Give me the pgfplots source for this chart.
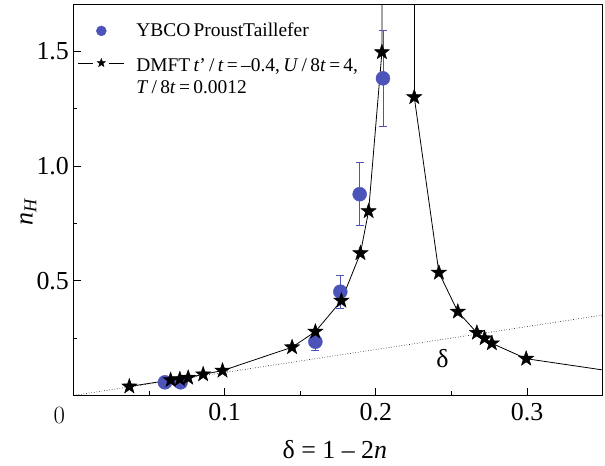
\documentclass[border=0pt]{standalone}
\usepackage{fontspec}
\setmainfont{Liberation Serif}
\usepackage{pgfplots}
\usepackage{pgfplotstable}
\pgfplotsset{compat=1.18}

\definecolor{ybco}{RGB}{77,84,185}

% filled five-pointed star
\pgfdeclareplotmark{fstar}{%
  \pgfpathmoveto{\pgfpointpolar{90}{\pgfplotmarksize}}%
  \pgfpathlineto{\pgfpointpolar{126}{0.4\pgfplotmarksize}}%
  \pgfpathlineto{\pgfpointpolar{162}{\pgfplotmarksize}}%
  \pgfpathlineto{\pgfpointpolar{198}{0.4\pgfplotmarksize}}%
  \pgfpathlineto{\pgfpointpolar{234}{\pgfplotmarksize}}%
  \pgfpathlineto{\pgfpointpolar{270}{0.4\pgfplotmarksize}}%
  \pgfpathlineto{\pgfpointpolar{306}{\pgfplotmarksize}}%
  \pgfpathlineto{\pgfpointpolar{342}{0.4\pgfplotmarksize}}%
  \pgfpathlineto{\pgfpointpolar{18}{\pgfplotmarksize}}%
  \pgfpathlineto{\pgfpointpolar{54}{0.4\pgfplotmarksize}}%
  \pgfpathclose
  \pgfusepathqfillstroke
}

\newcommand\legfont{\fontsize{19.5}{26.6}\selectfont\spaceskip=0.17em plus 0.05em minus 0.02em\relax}

% DMFT, underdoped branch
\pgfplotstableread{
x y
0.0370 0.039
0.0643 0.067
0.0704 0.071
0.0759 0.077
0.0858 0.092
0.0986 0.108
0.1446 0.210
0.1600 0.278
0.1772 0.413
0.1898 0.620
0.1952 0.803
0.2040 1.496
}\dmftleft
% DMFT, overdoped branch
\pgfplotstableread{
x y
0.2254 1.300
0.2417 0.535
0.2542 0.365
0.2668 0.273
0.2719 0.249
0.2767 0.227
0.2994 0.160
}\dmftright
% YBCO data
\pgfplotstableread{
x y e
0.0605 0.057 0
0.0709 0.057 0
0.1600 0.234 0.036
0.1765 0.452 0.072
0.1893 0.877 0.138
0.2047 1.382 0.210
}\ybco

\begin{document}
\begin{tikzpicture}
\useasboundingbox (-73.4bp,-70.6bp) rectangle (531.6bp,395.4bp);
\begin{axis}[
  scale only axis,
  width=529.3bp, height=390.7bp,
  xmin=0, xmax=0.35, ymin=0, ymax=1.703,
  axis line style={line width=0.8bp},
  xtick={0.1,0.2,0.3}, minor xtick={0.05,0.15,0.25},
  ytick={0.5,1.0,1.5}, minor ytick={0.25,0.75,1.25},
  xtick pos=bottom, ytick pos=left, tick align=inside,
  major tick length=7.5bp, minor tick length=4bp,
  tick style={black, line width=0.8bp},
  /pgf/number format/assume math mode=true,
  yticklabel style={/pgf/number format/fixed, /pgf/number format/fixed zerofill, /pgf/number format/precision=1, xshift=-1bp},
  ticklabel style={font=\fontsize{26}{30}\selectfont},
  xticklabel style={yshift=-4bp},
  xlabel={δ = 1 – 2\textit{n}},
  xlabel style={font=\fontsize{26}{30}\selectfont, at={(axis description cs:0.494,0)}, anchor=base, yshift=-63bp},
  ylabel={\textit{n}\textsubscript{\textit{H}}},
  ylabel style={font=\fontsize{26}{30}\selectfont, at={(axis description cs:-0.085,0.47)}, anchor=center},
  legend style={draw=none, fill=none, at={(axis description cs:0.008,0.958)}, anchor=north west,
    font=\legfont, cells={anchor=west, align=left}, row sep=16bp, inner sep=0pt},
  legend cell align=left,
]
\addlegendimage{legend image code/.code={
  \path[draw=none, fill=none] (-0.1bp,0bp) -- (56bp,0bp);
  \fill[ybco] (23bp,0bp) circle[radius=5bp];
}}
\addlegendentry{YBCO ProustTaillefer}
\addlegendimage{legend image code/.code={
  \draw[black, line width=0.8bp] (-0.1bp,14bp) -- (15bp,14bp);
  \draw[black, line width=0.8bp] (31bp,14bp) -- (46bp,14bp);
  \path[draw=none, fill=none] (-0.1bp,0bp) -- (56bp,0bp);
  \fill[black] (23bp,14bp) plot[mark=fstar, mark size=4.5bp] coordinates {(23bp,14bp)};
}}
\addlegendentry{DMFT \textit{t}' / \textit{t} = –0.4, \textit{U} / 8\textit{t} = 4,\\[-4bp]\textit{T} / 8\textit{t} = 0.0012}

\addplot[forget plot, black, line width=0.6bp, dotted] coordinates {(0,0) (0.35,0.35)};

\addplot[forget plot, black, line width=0.8bp] table[x=x,y=y] \dmftleft;
\addplot[forget plot, black, line width=0.8bp] coordinates {(0.2040,1.496) (0.2042,1.9)};
\addplot[forget plot, black, line width=0.8bp] coordinates {(0.2254,1.9) (0.2254,1.300)};
\addplot[forget plot, black, line width=0.8bp] table[x=x,y=y] \dmftright;
\addplot[forget plot, black, line width=0.8bp] coordinates {(0.2994,0.160) (0.35,0.111)};

\addplot[forget plot, only marks, mark=*, mark size=7bp, color=ybco,
  error bars/.cd, y dir=both, y explicit,
  error bar style={ybco, line width=0.8bp},
  error mark options={rotate=90, mark size=4bp, line width=0.8bp, ybco}]
  table[x=x, y=y, y error=e] \ybco;

\addplot[forget plot, only marks, mark=fstar, mark size=8bp, black] table[x=x,y=y] \dmftleft;
\addplot[forget plot, only marks, mark=fstar, mark size=8bp, black] table[x=x,y=y] \dmftright;

\node[font=\fontsize{26}{30}\selectfont] at (axis cs:0.244,0.162) {δ};
\end{axis}
\node[font=\fontsize{26}{30}\selectfont] at (-14bp,-20bp) {$0$};
\end{tikzpicture}
\end{document}
